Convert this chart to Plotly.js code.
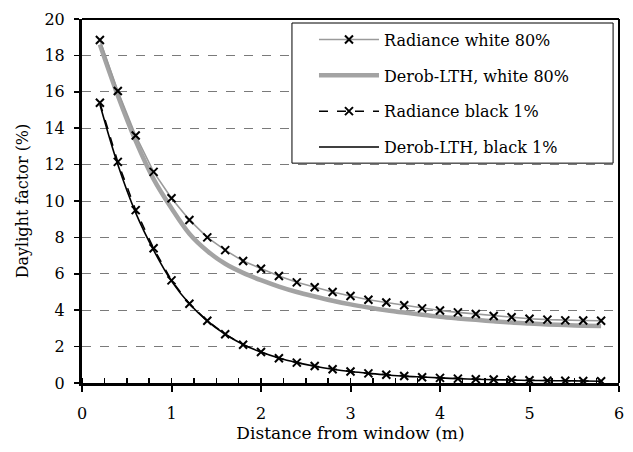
<!DOCTYPE html>
<html>
<head>
<meta charset="utf-8">
<script src="https://cdn.plot.ly/plotly-3.0.1.min.js"></script>
<style>html,body{margin:0;padding:0;background:#fff;}#chart{width:633px;height:452px;}</style>
</head>
<body>
<div id="chart"></div>
<script>
const distance = [0.2,0.4,0.6,0.8,1.0,1.2,1.4,1.6,1.8,2.0,2.2,2.4,2.6,2.8,3.0,3.2,3.4,3.6,3.8,4.0,4.2,4.4,4.6,4.8,5.0,5.2,5.4,5.6,5.8];
const radianceWhite = [18.85,16.04,13.6,11.6,10.15,8.96,8.0,7.3,6.7,6.28,5.88,5.53,5.26,5.0,4.78,4.57,4.42,4.27,4.1,3.98,3.88,3.79,3.68,3.61,3.53,3.48,3.44,3.43,3.42];
const derobWhite = [18.6,15.8,13.3,11.2,9.6,8.2,7.25,6.55,6.05,5.65,5.3,5.0,4.75,4.52,4.32,4.15,4.0,3.87,3.75,3.64,3.55,3.47,3.39,3.32,3.27,3.22,3.18,3.15,3.13];
const radianceBlack = [15.4,12.15,9.5,7.4,5.64,4.35,3.42,2.68,2.1,1.7,1.36,1.12,0.93,0.76,0.63,0.53,0.45,0.38,0.32,0.28,0.24,0.21,0.19,0.17,0.15,0.13,0.12,0.11,0.1];
const derobBlack = [15.3,12.0,9.35,7.3,5.6,4.35,3.4,2.68,2.12,1.7,1.37,1.12,0.92,0.76,0.63,0.53,0.45,0.38,0.33,0.28,0.24,0.21,0.18,0.16,0.14,0.13,0.12,0.11,0.1];
const seriesNames = ["Radiance white 80%","Derob-LTH, white 80%","Radiance black 1%","Derob-LTH, black 1%"];
const xTitle = "Distance from window (m)";
const yTitle = "Daylight factor (%)";

const FONT = "DejaVu Serif";
const xMarker = {symbol:"x-thin", size:8, color:"#000", line:{color:"#000", width:2}};

const traces = [
  {x:distance, y:derobWhite, name:seriesNames[1], mode:"lines", line:{color:"#a3a3a3", width:4.5, shape:"spline", smoothing:1}, legendrank:2, legendgroup:"b"},
  {x:distance, y:radianceWhite, name:seriesNames[0], mode:"lines+markers", line:{color:"#9a9a9a", width:1.6}, marker:xMarker, legendrank:1, legendgroup:"a"},
  {x:distance, y:derobBlack, name:seriesNames[3], mode:"lines", line:{color:"#000", width:1.6, shape:"spline", smoothing:1}, legendrank:4, legendgroup:"d"},
  {x:distance, y:radianceBlack, name:seriesNames[2], mode:"lines+markers", line:{color:"#000", width:1.5, dash:"dash"}, marker:xMarker, legendrank:3, legendgroup:"c"}
];

const layout = {
  width:633, height:452,
  margin:{l:82, r:14, t:19, b:69},
  paper_bgcolor:"#fff", plot_bgcolor:"#fff",
  font:{family:FONT, size:16, color:"#000"},
  showlegend:true,
  legend:{x:0.432, xanchor:"left", y:0.99, yanchor:"top", bgcolor:"rgba(0,0,0,0)", borderwidth:0,
          font:{family:FONT, size:16}, itemwidth:60, traceorder:"grouped", tracegroupgap:12},
  xaxis:{range:[0,6], dtick:1, tick0:0, showgrid:false, zeroline:false,
         showline:true, linecolor:"#000", linewidth:3,
         ticks:"outside", ticklen:6, tickwidth:2, tickcolor:"#000",
         tickfont:{family:FONT, size:16},
         minor:{ticks:"inside", dtick:0.25, ticklen:5, tickwidth:1.5, tickcolor:"#000", showgrid:false},
         ticklabelstandoff:8,
         title:{text:xTitle, font:{family:FONT, size:17}, standoff:5}},
  yaxis:{range:[0,20], dtick:2, tick0:0, zeroline:false,
         showgrid:true, gridcolor:"#7a7a7a", griddash:"dash", gridwidth:1,
         showline:true, linecolor:"#000", linewidth:3,
         ticks:"outside", ticklen:5, tickwidth:1.5, tickcolor:"#000",
         tickfont:{family:FONT, size:16},
         ticklabelstandoff:6,
         title:{text:yTitle, font:{family:FONT, size:16}, standoff:12}},
  shapes:[
    {type:"line", xref:"paper", yref:"paper", x0:0, x1:1, y0:1, y1:1, line:{color:"#000", width:2}},
    {type:"line", xref:"paper", yref:"paper", x0:1, x1:1, y0:0, y1:1, line:{color:"#000", width:2}},
    {type:"rect", xref:"paper", yref:"paper", x0:0.391, x1:0.989, y0:0.604, y1:0.989, layer:"above",
     fillcolor:"#fff", line:{color:"#000", width:1}}
  ]
};

Plotly.newPlot("chart", traces, layout, {displayModeBar:false, staticPlot:true});
</script>
</body>
</html>
